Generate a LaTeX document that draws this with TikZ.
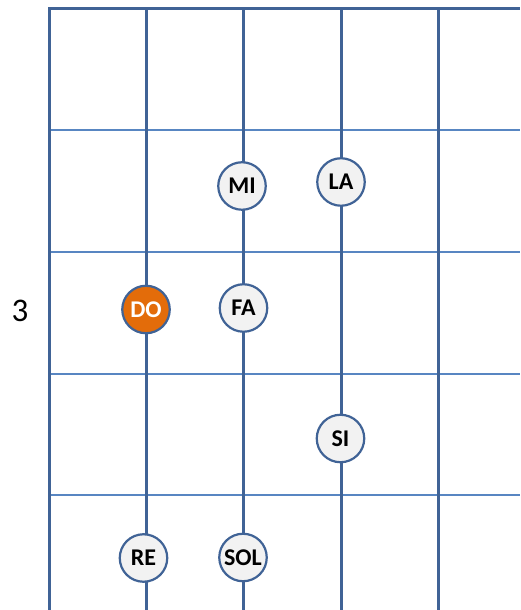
\documentclass[tikz,border=0pt]{standalone}
\usepackage{fontspec}
\setmainfont{Carlito}
\definecolor{gdark}{RGB}{64,99,150}
\definecolor{glight}{RGB}{88,134,194}
\definecolor{nfill}{RGB}{242,242,242}
\definecolor{dorange}{RGB}{227,108,10}
\begin{document}
\begin{tikzpicture}[x=1pt,y=1pt,
  note/.style={circle,draw=gdark,line width=2.2pt,fill=nfill,minimum size=47.5pt,inner sep=0pt,
    font=\fontsize{24}{24}\selectfont\bfseries,text=black},
  rootnote/.style={note,fill=dorange,text=white},
  hline/.style={glight,line width=2.4pt},
  vline/.style={gdark,line width=3pt}]
\useasboundingbox (0,0) rectangle (520,610);
% horizontal fret lines (image y: 130, 252, 374, 495)
\foreach \yy in {130,252,374,495}
  \draw[hline] (49,610-\yy) -- (520,610-\yy);
% vertical string lines
\foreach \xx in {49.5,146.5,243.5,341.5,438}
  \draw[vline] (\xx,0) -- (\xx,610-8);
% top line
\draw[vline] (48,610-8.5) -- (520,610-8.5);
% fret number
\node (fretnum) at (20,610-311) {\fontsize{33}{33}\selectfont 3};
% notes
\node[note] (mi) at (242,610-186) {MI};
\node[note] (la) at (341,610-182) {LA};
\node[rootnote] (do) at (146,610-309.5) {DO};
\node[note] (fa) at (243.5,610-308) {FA};
\node[note] (si) at (340.5,610-438.5) {SI};
\node[note] (re) at (143.5,610-558) {RE};
\node[note] (sol) at (243,610-557.5) {SOL};
\end{tikzpicture}
\end{document}
